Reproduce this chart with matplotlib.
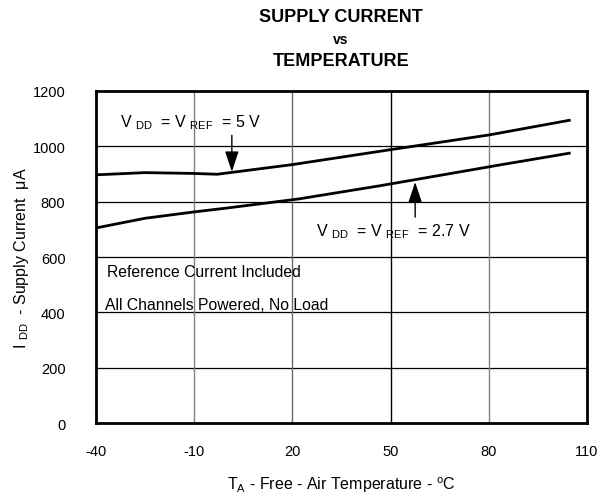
import matplotlib
matplotlib.use("Agg")
import matplotlib.pyplot as plt

plt.rcParams['font.family'] = ['Liberation Sans', 'DejaVu Sans']
plt.rcParams['mathtext.fontset'] = 'custom'
plt.rcParams['mathtext.rm'] = 'Liberation Sans'

# Data
temp_5v = [-40, -25, -10, -3, 20, 50, 80, 105]
idd_5v = [897, 905, 902, 899, 934, 988, 1041, 1095]
temp_27v = [-40, -25, -10, 0, 22, 47, 83, 105]
idd_27v = [705, 740, 763, 777, 810, 858, 932, 976]

x_ticks = [-40, -10, 20, 50, 80, 110]
y_ticks = [0, 200, 400, 600, 800, 1000, 1200]

fig = plt.figure(figsize=(6.11, 5.02), dpi=100)
ax = fig.add_axes([96/611, 1-424/502, 491/611, 332/502])

ax.plot(temp_5v, idd_5v, color='black', lw=2.0, solid_capstyle='butt')
ax.plot(temp_27v, idd_27v, color='black', lw=2.0, solid_capstyle='butt')

ax.set_xlim(-40, 110)
ax.set_ylim(0, 1200)
ax.set_xticks(x_ticks)
ax.set_yticks(y_ticks)
ax.set_xticklabels([str(v) for v in x_ticks])
ax.tick_params(axis='both', length=0, labelsize=10.5)
ax.tick_params(axis='x', pad=15)
ax.tick_params(axis='y', pad=22)

# grid
for y in y_ticks[1:-1]:
    ax.axhline(y, color='black', lw=0.9, zorder=0)
vcolors = {-10: '#808080', 20: '#6a6a6a', 50: '#000000', 80: '#808080'}
for x in x_ticks[1:-1]:
    ax.axvline(x, color=vcolors[x], lw=1.0, zorder=0)

for s in ax.spines.values():
    s.set_linewidth(2.0)

# annotations
ax.text(-32.7, 1088, r"V $_\mathregular{DD}$  = V $_\mathregular{REF}$  = 5 V", fontsize=11.5,
        va='center', ha='left')
ax.annotate('', xy=(1.5, 908), xytext=(1.5, 1040),
            arrowprops=dict(arrowstyle='-|>,head_length=0.9,head_width=0.3',
                            mutation_scale=14, lw=1.0, color='black',
                            shrinkA=0, shrinkB=0))
ax.text(27.2, 694, r"V $_\mathregular{DD}$  = V $_\mathregular{REF}$  = 2.7 V", fontsize=11.5,
        va='center', ha='left')
ax.annotate('', xy=(57.5, 871), xytext=(57.5, 744),
            arrowprops=dict(arrowstyle='-|>,head_length=0.9,head_width=0.3',
                            mutation_scale=14, lw=1.0, color='black',
                            shrinkA=0, shrinkB=0))
ax.text(-36.6, 546, "Reference Current Included", fontsize=11.3, va='center', ha='left')
ax.text(-37.2, 430, "All Channels Powered, No Load", fontsize=11.3, va='center', ha='left')

ax.set_xlabel(r"T$_\mathregular{A}$ - Free - Air Temperature - $^\mathregular{o}$C", fontsize=11.5, labelpad=12)
fig.text(22/611, 1-258/502, r"I $_\mathregular{DD}$  - Supply Current  μA", fontsize=11.5,
         rotation=90, ha='center', va='center')

fig.text(341/611, 1-18/502, "SUPPLY CURRENT", fontsize=13, fontweight='bold', ha='center', va='center')
fig.text(341/611, 1-40/502, "vs", fontsize=10, fontweight='bold', ha='center', va='center')
fig.text(341/611, 1-61/502, "TEMPERATURE", fontsize=13, fontweight='bold', ha='center', va='center')

fig.savefig("out.png", dpi=100)
